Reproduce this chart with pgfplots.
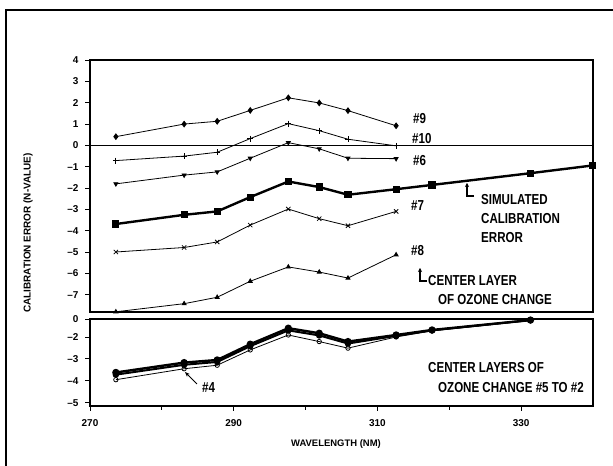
\documentclass[border=0pt]{standalone}
\usepackage{fontspec}
\setmainfont{Liberation Sans}
\newfontfamily\annfont[FakeStretch=0.8]{Liberation Sans}
\usepackage{pgfplots}
\pgfplotsset{compat=1.18}
\usetikzlibrary{arrows.meta}

\pgfplotsset{
  panel/.style={
    scale only axis, anchor=south west, width=503bp,
    xmin=270, xmax=340, clip=false,
    axis line style={line width=1.2pt},
    tick style={line width=0.9pt, black},
    tick align=outside, major tick length=5bp, minor tick length=4bp,
    ytick pos=left, xtick pos=bottom,
    tick label style={font=\bfseries\fontsize{10}{11}\selectfont},
    yticklabel style={xshift=-3bp},
  },
  thin line/.style={black, line width=0.8pt, mark size=2.3bp},
}

\begin{document}
\begin{tikzpicture}
\path[use as bounding box] (0,0) rectangle (613bp,466bp);

% upper panel
\begin{axis}[panel, at={(90bp,154bp)}, height=252bp,
  ymin=-7.8, ymax=4, xtick=\empty,
  ytick={-7,-6,-5,-4,-3,-2,-1,0,1,2,3,4},
  yticklabels={--7,--6,--5,--4,--3,--2,--1,0,1,2,3,4}]
\draw[line width=1pt] (axis cs:270,0) -- (axis cs:340,0);
% #9
\addplot[thin line, mark=diamond*, mark size=2.8bp] coordinates {
 (273.6,0.41) (283.1,1.00) (287.7,1.13) (292.3,1.64) (297.6,2.23)
 (301.9,1.99) (305.9,1.63) (312.6,0.92)};
% #10
\addplot[thin line, mark=+, mark size=3bp] coordinates {
 (273.6,-0.71) (283.1,-0.50) (287.7,-0.32) (292.3,0.32) (297.6,1.02)
 (301.9,0.69) (305.9,0.29) (312.6,-0.02)};
% #6
\addplot[thin line, mark=triangle*, mark options={rotate=180}] coordinates {
 (273.6,-1.80) (283.1,-1.39) (287.7,-1.24) (292.3,-0.60) (297.6,0.13)
 (301.9,-0.16) (305.9,-0.60) (312.6,-0.62)};
% simulated calibration error
\addplot[black, line width=2.4pt, mark=square*, mark size=2.4bp] coordinates {
 (273.6,-3.68) (283.1,-3.25) (287.7,-3.09) (292.3,-2.42) (297.6,-1.69)
 (301.9,-1.95) (305.9,-2.31) (312.6,-2.05) (317.6,-1.85) (331.3,-1.30)
 (339.9,-0.94)};
% #7
\addplot[thin line, mark=x, mark size=3bp] coordinates {
 (273.6,-4.99) (283.1,-4.78) (287.7,-4.52) (292.3,-3.73) (297.6,-2.98)
 (301.9,-3.43) (305.9,-3.76) (312.6,-3.09)};
% #8
\addplot[thin line, mark=triangle*] coordinates {
 (273.6,-7.79) (283.1,-7.41) (287.7,-7.11) (292.3,-6.36) (297.6,-5.69)
 (301.9,-5.93) (305.9,-6.21) (312.6,-5.12)};
\end{axis}

% lower panel
\begin{axis}[panel, at={(90bp,60bp)}, height=87bp,
  ymin=-5.15, ymax=-1.18,
  ytick={-5,-4,-3,-2,-1.18}, yticklabels={--5,--4,--3,--2,0},
  xtick={270,290,310,330}, minor xtick={280,300,320},
  xticklabels={270,290,310,330},
  xticklabel style={yshift=-5bp}]
% #4
\addplot[thin line, mark=o, mark size=2.2bp] coordinates {
 (273.6,-3.95) (283.1,-3.45) (287.7,-3.29) (292.3,-2.59) (297.6,-1.91)
 (301.9,-2.21) (305.9,-2.51) (312.6,-2.00) (317.6,-1.72) (331.3,-1.25)};
% #3, #2
\addplot[black, line width=2pt, mark=*, mark size=2.2bp] coordinates {
 (273.6,-3.72) (283.1,-3.27) (287.7,-3.14) (292.3,-2.42) (297.6,-1.70)
 (301.9,-1.93) (305.9,-2.30) (312.6,-1.95) (317.6,-1.70) (331.3,-1.23)};
% #5
\addplot[black, line width=2.4pt, mark=*, mark size=2.4bp] coordinates {
 (273.6,-3.62) (283.1,-3.17) (287.7,-3.05) (292.3,-2.33) (297.6,-1.60)
 (301.9,-1.83) (305.9,-2.21) (312.6,-1.91) (317.6,-1.68) (331.3,-1.23)};
\end{axis}

% annotations in image pixel coordinates
\begin{scope}[x=1bp, y=-1bp, yshift=466bp]
\draw[line width=1.2pt] (6,466) -- (6,10) -- (613,10);
\node[rotate=90, font=\bfseries\fontsize{10}{11}\selectfont] at (28,233) {CALIBRATION ERROR (N-VALUE)};
\node[font=\bfseries\fontsize{9.5}{11}\selectfont] at (336,444) {WAVELENGTH (NM)};
\begin{scope}[every node/.style={anchor=west, inner sep=0pt, font=\annfont\bfseries\fontsize{14.5}{16}\selectfont}]
\node at (413,119) {\#9};
\node at (412,139) {\#10};
\node at (413,161) {\#6};
\node at (411,206) {\#7};
\node at (411,251) {\#8};
\node at (481,200) {SIMULATED};
\node at (481,219) {CALIBRATION};
\node at (481,238) {ERROR};
\node at (428,281) {CENTER LAYER};
\node at (438,300) {OF OZONE CHANGE};
\node at (428,368) {CENTER LAYERS OF};
\node at (438,388) {OZONE CHANGE \#5 TO \#2};
\node at (202,388) {\#4};
\end{scope}
\draw[line width=1.1pt, -{Stealth[length=4pt,width=4pt]}] (474,196) -- (467,196) -- (467,183);
\draw[line width=1.1pt, -{Stealth[length=4pt,width=4pt]}] (427,281) -- (420,281) -- (420,268);
\draw[line width=1pt, -{Stealth[length=5pt,width=4pt]}] (197,384) -- (185,372);
\end{scope}
\end{tikzpicture}
\end{document}
